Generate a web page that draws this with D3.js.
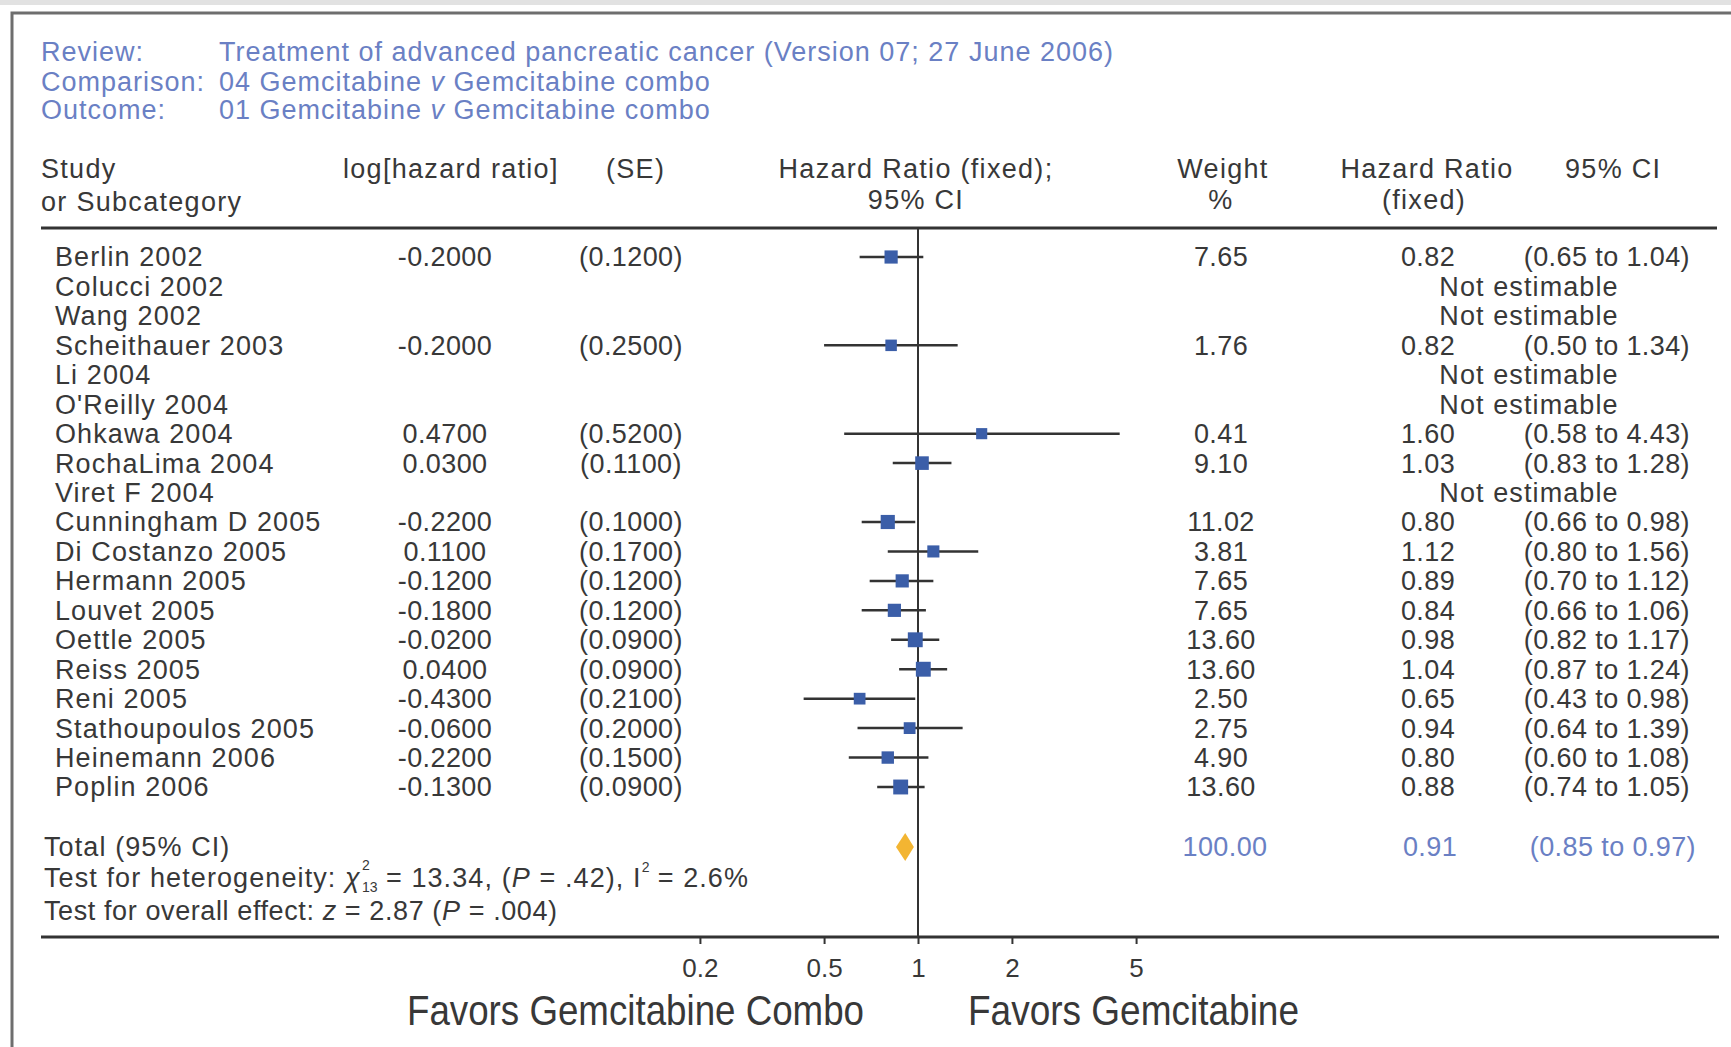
<!DOCTYPE html>
<html>
<head>
<meta charset="utf-8">
<script src="https://cdn.jsdelivr.net/npm/d3@7"></script>
<style>
  body { margin: 0; background: #fff; }
  svg text { font-family: "Liberation Sans", Arial, sans-serif; fill: #383838; }
  .lbl { font-size: 27px; letter-spacing: 1.1px; }
  .num { font-size: 27px; letter-spacing: 0.4px; }
  .hdr { font-size: 27px; letter-spacing: 1.3px; }
  .rev { font-size: 27px; letter-spacing: 1px; }
</style>
</head>
<body>
<div id="chart"></div>
<script>
const studies = ["Berlin 2002", "Colucci 2002", "Wang 2002", "Scheithauer 2003", "Li 2004", "O'Reilly 2004",
  "Ohkawa 2004", "RochaLima 2004", "Viret F 2004", "Cunningham D 2005", "Di Costanzo 2005", "Hermann 2005",
  "Louvet 2005", "Oettle 2005", "Reiss 2005", "Reni 2005", "Stathoupoulos 2005", "Heinemann 2006", "Poplin 2006"];
const logHR = ["-0.2000", "", "", "-0.2000", "", "", "0.4700", "0.0300", "", "-0.2200", "0.1100", "-0.1200",
  "-0.1800", "-0.0200", "0.0400", "-0.4300", "-0.0600", "-0.2200", "-0.1300"];
const seText = ["(0.1200)", "", "", "(0.2500)", "", "", "(0.5200)", "(0.1100)", "", "(0.1000)", "(0.1700)", "(0.1200)",
  "(0.1200)", "(0.0900)", "(0.0900)", "(0.2100)", "(0.2000)", "(0.1500)", "(0.0900)"];
const weights = [7.65, null, null, 1.76, null, null, 0.41, 9.10, null, 11.02, 3.81, 7.65, 7.65, 13.60, 13.60, 2.50, 2.75, 4.90, 13.60];
const hr = [0.82, null, null, 0.82, null, null, 1.60, 1.03, null, 0.80, 1.12, 0.89, 0.84, 0.98, 1.04, 0.65, 0.94, 0.80, 0.88];
const ciLow = [0.65, null, null, 0.50, null, null, 0.58, 0.83, null, 0.66, 0.80, 0.70, 0.66, 0.82, 0.87, 0.43, 0.64, 0.60, 0.74];
const ciHigh = [1.04, null, null, 1.34, null, null, 4.43, 1.28, null, 0.98, 1.56, 1.12, 1.06, 1.17, 1.24, 0.98, 1.39, 1.08, 1.05];
const total = {weight: "100.00", hr: 0.91, lo: 0.85, hi: 0.97};
const tickValues = [0.2, 0.5, 1, 2, 5];

const W = 1731, H = 1047;
const blue = "#6a80c4", sqColor = "#3b5ea8", diamondColor = "#f3b532", lineColor = "#333";

const svg = d3.select("#chart").append("svg").attr("width", W).attr("height", H);

// scan frame
svg.append("rect").attr("x", 0).attr("y", 0).attr("width", W).attr("height", 5).attr("fill", "#e2e2e2");
svg.append("path").attr("d", `M12,${H} V13 H${W}`).attr("fill", "none").attr("stroke", "#6e6e6e").attr("stroke-width", 3);

// review block
const reviewLabels = ["Review:", "Comparison:", "Outcome:"];
const reviewValues = ["Treatment of advanced pancreatic cancer (Version 07; 27 June 2006)", "04 Gemcitabine v Gemcitabine combo", "01 Gemcitabine v Gemcitabine combo"];
const reviewY = [52, 82, 110];
reviewLabels.forEach((t, i) => {
  svg.append("text").attr("class", "rev").attr("x", 41).attr("y", reviewY[i]).attr("dy", "0.35em").style("fill", blue).text(t);
  const v = svg.append("text").attr("class", "rev").attr("x", 219).attr("y", reviewY[i]).attr("dy", "0.35em").style("fill", blue);
  if (i === 0) v.text(reviewValues[i]);
  else {
    const parts = reviewValues[i].split(" v ");
    v.append("tspan").text(parts[0] + " ");
    v.append("tspan").style("font-style", "italic").text("v");
    v.append("tspan").text(" " + parts[1]);
  }
});

// column headers
const hdr = (x, y, t, anchor) => svg.append("text").attr("class", "hdr").attr("x", x).attr("y", y).attr("dy", "0.35em")
  .attr("text-anchor", anchor || "start").text(t);
hdr(41, 169, "Study");
hdr(41, 202, "or Subcategory");
hdr(343, 169, "log[hazard ratio]");
hdr(606, 169, "(SE)");
hdr(916, 169, "Hazard Ratio (fixed);", "middle");
hdr(916, 200, "95% CI", "middle");
hdr(1223, 169, "Weight", "middle");
hdr(1221, 200, "%", "middle");
hdr(1427, 169, "Hazard Ratio", "middle");
hdr(1424, 200, "(fixed)", "middle");
hdr(1565, 169, "95% CI");

// rules
const topRule = 228, bottomRule = 937;
svg.append("line").attr("x1", 41).attr("x2", 1717).attr("y1", topRule).attr("y2", topRule).attr("stroke", "#333").attr("stroke-width", 3);
svg.append("line").attr("x1", 41).attr("x2", 1719).attr("y1", bottomRule).attr("y2", bottomRule).attr("stroke", "#333").attr("stroke-width", 3);

// scales
const x = d3.scaleLog().domain([0.1, 10]).range([606, 1230]);
const y = d3.scalePoint().domain(studies).range([257, 787]);
const size = d3.scaleLinear().domain([0, 14]).range([11, 15]);

// line of no effect
svg.append("line").attr("x1", x(1)).attr("x2", x(1)).attr("y1", topRule).attr("y2", bottomRule)
  .attr("stroke", "#333").attr("stroke-width", 2);

const rows = studies.map((s, i) => ({name: s, lhr: logHR[i], se: seText[i], w: weights[i], hr: hr[i], lo: ciLow[i], hi: ciHigh[i]}));

const row = svg.append("g").selectAll("g.row").data(rows).enter().append("g").attr("class", "row");

row.append("text").attr("class", "lbl").attr("x", 55).attr("y", d => y(d.name)).attr("dy", "0.35em").text(d => d.name);
row.append("text").attr("class", "num").attr("x", 445).attr("y", d => y(d.name)).attr("dy", "0.35em").attr("text-anchor", "middle").text(d => d.lhr);
row.append("text").attr("class", "num").attr("x", 631).attr("y", d => y(d.name)).attr("dy", "0.35em").attr("text-anchor", "middle").text(d => d.se);

const est = row.filter(d => d.hr != null);
est.append("line").attr("x1", d => x(d.lo)).attr("x2", d => x(d.hi)).attr("y1", d => y(d.name)).attr("y2", d => y(d.name))
  .attr("stroke", lineColor).attr("stroke-width", 2.5);
est.append("rect").attr("x", d => x(d.hr) - size(d.w) / 2).attr("y", d => y(d.name) - size(d.w) / 2)
  .attr("width", d => size(d.w)).attr("height", d => size(d.w)).attr("fill", sqColor);
est.append("text").attr("class", "num").attr("x", 1221).attr("y", d => y(d.name)).attr("dy", "0.35em").attr("text-anchor", "middle").text(d => d.w.toFixed(2));
est.append("text").attr("class", "num").attr("x", 1428).attr("y", d => y(d.name)).attr("dy", "0.35em").attr("text-anchor", "middle").text(d => d.hr.toFixed(2));
est.append("text").attr("class", "num").attr("x", 1690).attr("y", d => y(d.name)).attr("dy", "0.35em").attr("text-anchor", "end")
  .text(d => `(${d.lo.toFixed(2)} to ${d.hi.toFixed(2)})`);
row.filter(d => d.hr == null).append("text").attr("class", "lbl").attr("x", 1529).attr("y", d => y(d.name)).attr("dy", "0.35em").attr("text-anchor", "middle")
  .text("Not estimable");

// total
const ty = 847;
svg.append("text").attr("class", "lbl").attr("x", 44).attr("y", ty).attr("dy", "0.35em").text("Total (95% CI)");
svg.append("path").attr("d", `M${x(total.lo)},${ty} L${x(total.hr)},${ty - 14} L${x(total.hi)},${ty} L${x(total.hr)},${ty + 14} Z`).attr("fill", diamondColor);
svg.append("text").attr("class", "num").attr("x", 1225).attr("y", ty).attr("dy", "0.35em").attr("text-anchor", "middle").style("fill", blue).text(total.weight);
svg.append("text").attr("class", "num").attr("x", 1430).attr("y", ty).attr("dy", "0.35em").attr("text-anchor", "middle").style("fill", blue).text(total.hr.toFixed(2));
svg.append("text").attr("class", "num").attr("x", 1696).attr("y", ty).attr("dy", "0.35em").attr("text-anchor", "end").style("fill", blue)
  .text(`(${total.lo.toFixed(2)} to ${total.hi.toFixed(2)})`);

// heterogeneity line built from pieces so the stacked indices sit right after chi
const hy = 878;
const h1 = svg.append("text").attr("class", "lbl").attr("x", 44).attr("y", hy).attr("dy", "0.35em");
h1.append("tspan").text("Test for heterogeneity: ");
h1.append("tspan").style("font-style", "italic").text("χ");
let hx = 44 + h1.node().getComputedTextLength() + 1;
svg.append("text").attr("x", hx).attr("y", hy - 8).style("font-size", "14px").text("2");
svg.append("text").attr("x", hx).attr("y", hy + 14).style("font-size", "14px").text("13");
const h2 = svg.append("text").attr("class", "lbl").attr("x", hx + 24).attr("y", hy).attr("dy", "0.35em");
h2.append("tspan").text("= 13.34, (");
h2.append("tspan").style("font-style", "italic").text("P");
h2.append("tspan").text(" = .42), I");
hx = hx + 24 + h2.node().getComputedTextLength();
svg.append("text").attr("x", hx).attr("y", hy - 6).style("font-size", "14px").text("2");
svg.append("text").attr("class", "lbl").attr("x", hx + 16).attr("y", hy).attr("dy", "0.35em").text("= 2.6%");

const ov = svg.append("text").attr("class", "lbl").attr("x", 44).attr("y", 911).attr("dy", "0.35em").style("letter-spacing", "0.6px");
ov.append("tspan").text("Test for overall effect: ");
ov.append("tspan").style("font-style", "italic").text("z");
ov.append("tspan").text(" = 2.87 (");
ov.append("tspan").style("font-style", "italic").text("P");
ov.append("tspan").text(" = .004)");

// axis
const axis = svg.append("g").attr("transform", `translate(0,${bottomRule})`)
  .call(d3.axisBottom(x).tickValues(tickValues).tickSize(7).tickPadding(15).tickFormat(d3.format("")));
axis.select(".domain").remove();
axis.selectAll("line").attr("stroke", "#333").attr("stroke-width", 2);
axis.selectAll("text").style("font-size", "26px").style("font-family", "Liberation Sans, Arial, sans-serif").attr("fill", "#383838");

// side labels (condensed face)
svg.append("text").attr("x", 864).attr("y", 1010).attr("dy", "0.35em").attr("text-anchor", "end")
  .attr("textLength", 457).attr("lengthAdjust", "spacingAndGlyphs")
  .style("font-size", "43px").text("Favors Gemcitabine Combo");
svg.append("text").attr("x", 968).attr("y", 1010).attr("dy", "0.35em")
  .attr("textLength", 331).attr("lengthAdjust", "spacingAndGlyphs")
  .style("font-size", "43px").text("Favors Gemcitabine");
</script>
</body>
</html>
